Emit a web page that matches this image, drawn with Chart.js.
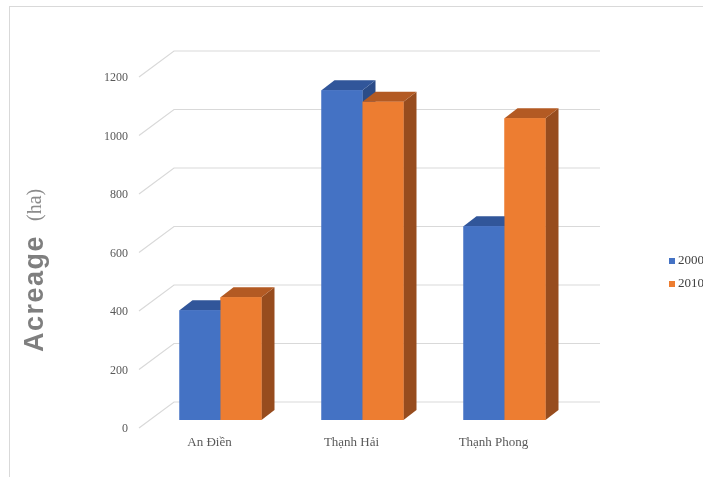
<!DOCTYPE html>
<html lang="en">
<head>
<meta charset="UTF-8">
<title>Acreage (ha)</title>
<script src="https://cdn.jsdelivr.net/npm/chart.js@4"></script>
<style>
    body { margin: 0; background: #fff; }
    .frame { position: relative; width: 703px; height: 477px; overflow: hidden; background: #fff; }
    .edge {
        position: absolute; left: 9px; top: 6px; right: 0; bottom: 0;
        border-top: 1px solid #d9d9d9; border-left: 1px solid #d9d9d9;
    }
    canvas { position: absolute; left: 0; top: 0; }
</style>
</head>
<body>
<div class="frame">
    <div class="edge"></div>
    <canvas id="barChart" width="703" height="477"></canvas>
</div>
<script>
const communes = ['An Điền', 'Thạnh Hải', 'Thạnh Phong'];
const years = ['2000', '2010'];
const acreage2000 = [375, 1127, 662];
const acreage2010 = [420, 1088, 1032];
const yTicks = [0, 200, 400, 600, 800, 1000, 1200];

// fake 3d: bar depth and floor/wall offsets, relative to the bar plane
const depth = { dx: 13, dy: -10 };
const wall = { frontX: -10.5, frontY: 8, backX: 24.5, backY: -18 };

const faceColors = [
    { front: '#4472c4', top: '#31569a', side: '#2b4c88' },
    { front: '#ed7d31', top: '#b35a23', side: '#974c1e' }
];

function poly(ctx, pts, color) {
    ctx.beginPath();
    ctx.moveTo(pts[0][0], pts[0][1]);
    for (let i = 1; i < pts.length; i++) ctx.lineTo(pts[i][0], pts[i][1]);
    ctx.closePath();
    ctx.fillStyle = color;
    ctx.fill();
}

const fake3d = {
    id: 'fake3d',
    beforeDatasetsDraw(chart) {
        const { ctx, chartArea: a } = chart;
        const y = chart.scales.y;
        ctx.save();
        ctx.strokeStyle = '#d9d9d9';
        ctx.lineWidth = 1.2;
        y.ticks.forEach(t => {
            const py = y.getPixelForValue(t.value);
            ctx.beginPath();
            ctx.moveTo(a.left + wall.frontX, py + wall.frontY);
            ctx.lineTo(a.left + wall.backX, py + wall.backY);
            ctx.lineTo(a.right + wall.backX, py + wall.backY);
            ctx.stroke();
        });
        ctx.restore();
    },
    afterDatasetsDraw(chart) {
        const ctx = chart.ctx;
        const metas = chart.getSortedVisibleDatasetMetas();
        ctx.save();
        communes.forEach((c, i) => {
            metas.forEach(meta => {
                const bar = meta.data[i];
                const { x, y, base, width } = bar.getProps(['x', 'y', 'base', 'width'], true);
                const l = x - width / 2, r = x + width / 2;
                const col = faceColors[meta.index];
                poly(ctx, [[r, y], [r + depth.dx, y + depth.dy], [r + depth.dx, base + depth.dy], [r, base]], col.side);
                poly(ctx, [[l, y], [r, y], [r + depth.dx, y + depth.dy], [l + depth.dx, y + depth.dy]], col.top);
                bar.draw(ctx);
            });
        });
        ctx.restore();
    },
    afterDraw(chart) {
        const ctx = chart.ctx;
        ctx.save();
        // legend
        chart.data.datasets.forEach((ds, k) => {
            const cy = 261 + k * 23;
            ctx.fillStyle = ds.backgroundColor;
            ctx.fillRect(669, cy - 3, 6, 6);
            ctx.fillStyle = '#404040';
            ctx.font = '13px "Liberation Serif"';
            ctx.textBaseline = 'middle';
            ctx.fillText(ds.label, 678, cy);
        });
        // axis title, two fonts
        ctx.translate(43, 352);
        ctx.rotate(-Math.PI / 2);
        ctx.textBaseline = 'alphabetic';
        ctx.fillStyle = '#7f7f7f';
        ctx.font = 'bold 27px "Liberation Sans"';
        ctx.letterSpacing = '1.5px';
        ctx.fillText('Acreage', 0, 0);
        ctx.letterSpacing = '0px';
        ctx.fillStyle = '#8c8c8c';
        ctx.font = '20px "Liberation Serif"';
        ctx.fillText('(ha)', 131, -2);
        ctx.restore();
    }
};

Chart.defaults.font.family = '"Liberation Serif", serif';

new Chart(document.getElementById('barChart'), {
    type: 'bar',
    data: {
        labels: communes,
        datasets: [
            { label: years[0], data: acreage2000, backgroundColor: faceColors[0].front },
            { label: years[1], data: acreage2010, backgroundColor: faceColors[1].front }
        ]
    },
    options: {
        responsive: false,
        animation: false,
        categoryPercentage: 0.5775,
        barPercentage: 1,
        layout: { padding: { top: 69, right: 127.5, left: 0, bottom: 0 } },
        plugins: {
            legend: { display: false },
            tooltip: { enabled: false }
        },
        scales: {
            x: {
                grid: { display: false, drawTicks: false },
                border: { display: false },
                ticks: { color: '#595959', font: { size: 13 }, padding: 15, labelOffset: -11, maxRotation: 0 },
                afterFit: s => { s.height = 57; }
            },
            y: {
                min: 0,
                max: 1200,
                grid: { display: false, drawTicks: false },
                border: { display: false },
                ticks: {
                    color: '#595959', font: { size: 12 }, padding: 21.5, labelOffset: 9,
                    callback: v => String(v)
                },
                afterBuildTicks: s => { s.ticks = yTicks.map(v => ({ value: v })); },
                afterFit: s => { s.width = 149.5; }
            }
        }
    },
    plugins: [fake3d]
});
</script>
</body>
</html>
